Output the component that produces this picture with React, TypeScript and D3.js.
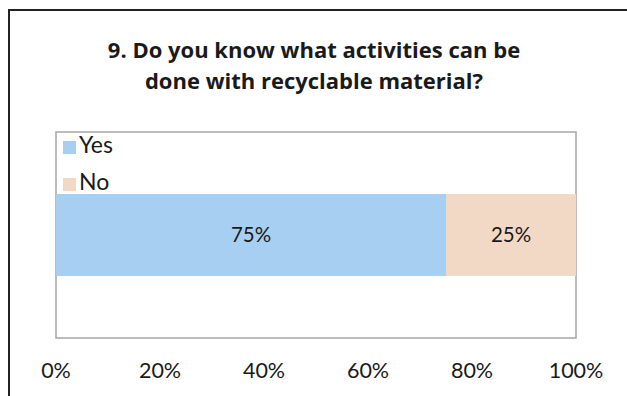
import React from "react";
import * as d3 from "d3";

const categories = ["Q9"];
const seriesNames = ["Yes", "No"];
const seriesValues = [0.75, 0.25];
const seriesColors = ["#A6CFF2", "#F2D9C6"];
const tickValues = [0, 0.2, 0.4, 0.6, 0.8, 1.0];
const titleLines = ["9. Do you know what activities can be", "done with recyclable material?"];

const W = 627;
const H = 396;
const plot = { left: 56, top: 132, right: 576, bottom: 338 };
const FONT = "Lato, 'Open Sans', sans-serif";
const TITLE_FONT = "'Open Sans', Lato, sans-serif";

export default function App() {
  const x = d3.scaleLinear().domain([0, 1]).range([plot.left, plot.right]);
  const y = d3
    .scaleBand<string>()
    .domain(categories)
    .range([plot.top, plot.bottom])
    .paddingInner(0)
    .paddingOuter(0.756);

  const stackData = [Object.fromEntries(seriesNames.map((s, i) => [s, seriesValues[i]]))];
  const stacked = d3.stack<any>().keys(seriesNames)(stackData as any);
  const fmt = d3.format(".0%");

  return (
    <svg
      width={W}
      height={H}
      style={{ position: "absolute", left: 0, top: 0, background: "#fff" }}
      fontFamily={FONT}
    >
      <rect x={0} y={0} width={W} height={H} fill="#fff" />
      <rect x={9} y={10} width={W + 20} height={H + 20} fill="#fff" stroke="#222" strokeWidth={2} />
      {titleLines.map((t, i) => (
        <text
          key={i}
          x={314}
          y={58 + i * 31}
          textAnchor="middle"
          fontSize={22}
          fontWeight="bold"
          fontFamily={TITLE_FONT}
          fill="#1a1a1a"
        >
          {t}
        </text>
      ))}
      <rect
        x={plot.left}
        y={plot.top}
        width={plot.right - plot.left}
        height={plot.bottom - plot.top}
        fill="#fff"
        stroke="#A6A6A6"
        strokeWidth={1.5}
      />
      {stacked.map((layer, si) =>
        layer.map((d, ci) => {
          const x0 = x(d[0]);
          const x1 = x(d[1]);
          const yy = y(categories[ci])!;
          const bw = y.bandwidth();
          return (
            <g key={`${si}-${ci}`}>
              <rect x={x0} y={yy} width={x1 - x0} height={bw} fill={seriesColors[si]} />
              <text
                x={(x0 + x1) / 2}
                y={yy + bw / 2}
                dy="0.35em"
                textAnchor="middle"
                fontSize={20.5}
                fill="#1a1a1a"
              >
                {fmt(seriesValues[si])}
              </text>
            </g>
          );
        })
      )}
      {seriesNames.map((s, i) => (
        <g key={s} transform={`translate(63, ${141 + i * 37})`}>
          <rect x={0} y={0} width={13} height={13} fill={seriesColors[i]} />
          <text x={16} y={12} fontSize={23} fill="#1a1a1a">
            {s}
          </text>
        </g>
      ))}
      {tickValues.map((t) => (
        <text
          key={t}
          x={x(t)}
          y={378}
          textAnchor="middle"
          fontSize={21.5}
          fill="#1a1a1a"
        >
          {fmt(t)}
        </text>
      ))}
    </svg>
  );
}
